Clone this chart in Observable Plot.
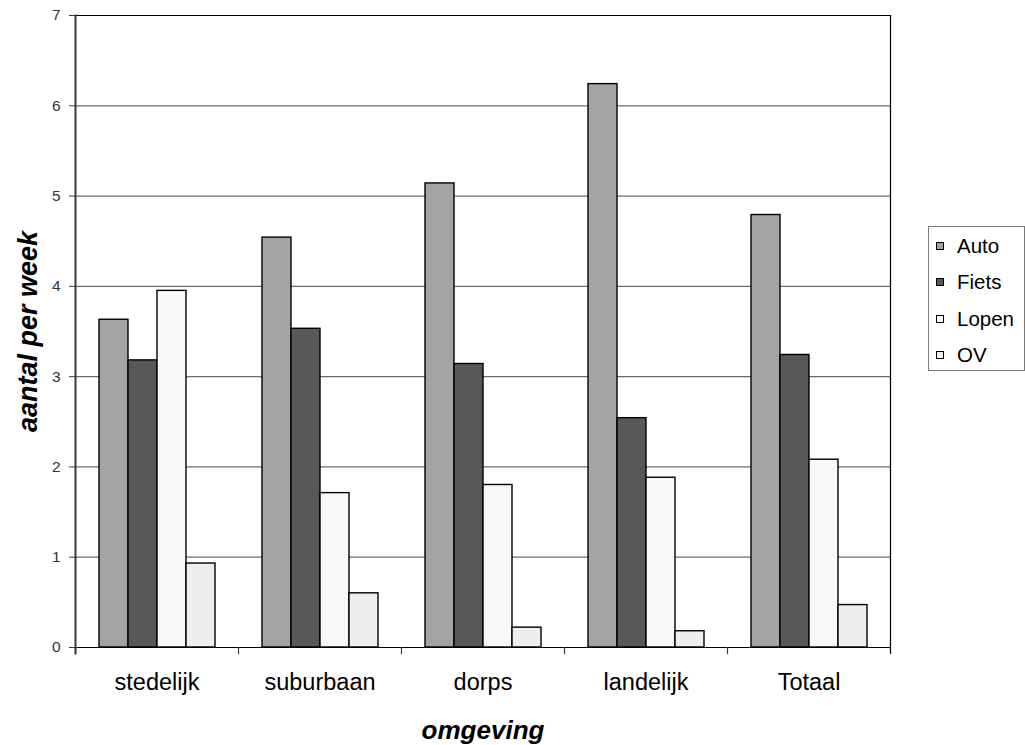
<!DOCTYPE html>
<html lang="nl">
<head>
<meta charset="utf-8">
<script src="https://cdn.jsdelivr.net/npm/d3@7"></script>
<script src="https://cdn.jsdelivr.net/npm/@observablehq/plot@0.6"></script>
<style>
  html, body { margin: 0; padding: 0; background: #fff; }
  #wrap { position: relative; width: 1025px; height: 745px; overflow: hidden; font-family: "Liberation Sans", Arial, sans-serif; }
  #legend { position: absolute; left: 928px; top: 226px; width: 97px; height: 145px; box-sizing: border-box;
            border: 1px solid #7a7a7a; background: #fff; }
  #legend .row { position: absolute; left: 0; height: 24px; display: flex; align-items: center; font-size: 20.5px; color: #000; }
  #legend .sw { width: 8px; height: 8px; box-sizing: border-box; border: 1px solid #000; margin-left: 7px; margin-right: 13px; }
</style>
</head>
<body>
<div id="wrap"><div id="legend"></div></div>
<script>
// Verplaatsingen per week naar vervoerwijze en omgeving
const categories = ["stedelijk", "suburbaan", "dorps", "landelijk", "Totaal"];
const modes = ["Auto", "Fiets", "Lopen", "OV"];
const auto  = [3.63, 4.54, 5.14, 6.24, 4.79];
const fiets = [3.18, 3.53, 3.14, 2.54, 3.24];
const lopen = [3.95, 1.71, 1.80, 1.88, 2.08];
const ov    = [0.93, 0.60, 0.22, 0.18, 0.47];
const yTicks = [0, 1, 2, 3, 4, 5, 6, 7];

const series = [auto, fiets, lopen, ov];
const fills = ["#a4a4a4", "#585858", "#f8f8f8", "#eeeeee"];

const rows = categories.flatMap((c, i) =>
  modes.map((m, j) => ({category: c, mode: m, value: series[j][i]}))
);

const chart = Plot.plot({
  width: 1025,
  height: 745,
  marginLeft: 74,
  marginRight: 135,
  marginTop: 15,
  marginBottom: 98,
  style: {fontFamily: "'Liberation Sans', Arial, sans-serif", background: "transparent", color: "#1a1a1a"},
  fx: {domain: categories, padding: 0},
  x: {domain: modes, paddingInner: 0, paddingOuter: 0.75, axis: null},
  y: {domain: [0, 7]},
  color: {domain: modes, range: fills},
  marks: [
    Plot.gridY(yTicks.slice(1, -1), {stroke: "#6b6b6b", strokeOpacity: 1, strokeWidth: 1.2}),
    Plot.barY(rows, {fx: "category", x: "mode", y: "value", fill: "mode", stroke: "#000", strokeWidth: 1.4}),
    Plot.frame({anchor: "top", stroke: "#000", strokeWidth: 1.2}),
    Plot.frame({anchor: "bottom", stroke: "#000", strokeWidth: 1.2}),
    Plot.frame({anchor: "left", facetAnchor: "left", stroke: "#3a3a3a", strokeWidth: 2, insetBottom: -6}),
    Plot.frame({anchor: "right", facetAnchor: "right", stroke: "#000", strokeWidth: 1.2, insetBottom: -6}),
    Plot.frame({anchor: "left", stroke: "#3a3a3a", strokeWidth: 1.2, insetTop: 632, insetBottom: -6}),
    Plot.axisY({ticks: yTicks, tickFormat: d3.format("d"), tickSize: 6, tickPadding: 9, fontSize: 15.5,
                color: "#333", stroke: "#3a3a3a", label: null}),
    Plot.axisY({ticks: [], label: "aantal per week", labelAnchor: "center", labelArrow: "none", labelOffset: 58,
                fontSize: 27, fontWeight: "bold", fontStyle: "italic", color: "#000"}),
    Plot.axisFx({anchor: "bottom", tickSize: 0, tickPadding: 26, fontSize: 23.5, color: "#000", label: null}),
    Plot.axisFx({anchor: "bottom", ticks: [], label: "omgeving", labelAnchor: "center", labelArrow: "none", labelOffset: 91,
                 fontSize: 26, fontWeight: "bold", fontStyle: "italic", color: "#000"})
  ]
});

const wrap = document.getElementById("wrap");
wrap.insertBefore(chart, wrap.firstChild);

// Legenda rechts van de grafiek
const legend = d3.select("#legend");
modes.forEach((m, j) => {
  const row = legend.append("div").attr("class", "row").style("top", (7 + j * 36.3) + "px");
  row.append("div").attr("class", "sw").style("background", fills[j]);
  row.append("span").text(m);
});
</script>
</body>
</html>
